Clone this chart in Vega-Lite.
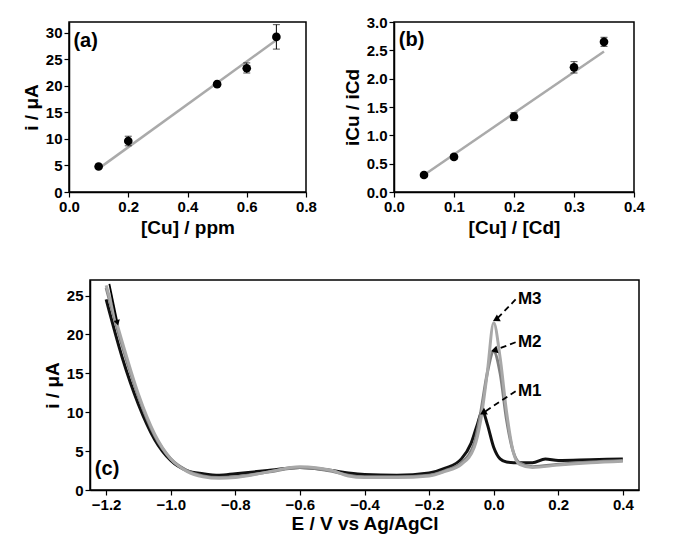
{
  "$schema": "https://vega.github.io/schema/vega-lite/v6.json",
  "background": "white",
  "padding": {"left": 21, "top": 14, "right": 8, "bottom": 4},
  "config": {
    "font": "Liberation Sans",
    "view": {"stroke": "black", "strokeWidth": 1.5},
    "axis": {"grid": false, "domainColor": "black", "tickColor": "black", "labelColor": "black", "titleColor": "black",
      "labelFont": "Liberation Sans", "titleFont": "Liberation Sans", "labelFontWeight": "bold", "titleFontWeight": "bold",
      "labelFontSize": 15, "titleFontSize": 19, "domainWidth": 1.5, "tickWidth": 1.2, "tickSize": 5, "labelFlush": false}
  },
  "datasets": {
    "a": [
      {"x": 0.1, "y": 4.8, "lo": 4.5, "hi": 5.1},
      {"x": 0.2, "y": 9.6, "lo": 8.7, "hi": 10.5},
      {"x": 0.5, "y": 20.3, "lo": 20.0, "hi": 20.6},
      {"x": 0.6, "y": 23.3, "lo": 22.4, "hi": 24.3},
      {"x": 0.7, "y": 29.2, "lo": 26.9, "hi": 31.5}
    ],
    "afit": [{"x": 0.1, "y": 4.4}, {"x": 0.7, "y": 28.6}],
    "b": [
      {"x": 0.05, "y": 0.3, "lo": 0.27, "hi": 0.33},
      {"x": 0.1, "y": 0.62, "lo": 0.58, "hi": 0.66},
      {"x": 0.2, "y": 1.33, "lo": 1.26, "hi": 1.4},
      {"x": 0.3, "y": 2.2, "lo": 2.1, "hi": 2.3},
      {"x": 0.35, "y": 2.65, "lo": 2.57, "hi": 2.73}
    ],
    "bfit": [{"x": 0.05, "y": 0.3}, {"x": 0.35, "y": 2.48}],
    "c": [
      {"s": "M1", "x": -1.2, "y": 24.5}, {"s": "M1", "x": -1.15, "y": 17}, {"s": "M1", "x": -1.1, "y": 11}, {"s": "M1", "x": -1.05, "y": 6.5},
      {"s": "M1", "x": -1.0, "y": 3.8}, {"s": "M1", "x": -0.95, "y": 2.5}, {"s": "M1", "x": -0.9, "y": 2.1}, {"s": "M1", "x": -0.85, "y": 1.9},
      {"s": "M1", "x": -0.8, "y": 2.1}, {"s": "M1", "x": -0.7, "y": 2.5}, {"s": "M1", "x": -0.6, "y": 2.9}, {"s": "M1", "x": -0.5, "y": 2.5},
      {"s": "M1", "x": -0.45, "y": 2.2}, {"s": "M1", "x": -0.4, "y": 2.0}, {"s": "M1", "x": -0.3, "y": 1.9}, {"s": "M1", "x": -0.2, "y": 2.2},
      {"s": "M1", "x": -0.15, "y": 2.8}, {"s": "M1", "x": -0.1, "y": 4.0}, {"s": "M1", "x": -0.07, "y": 6}, {"s": "M1", "x": -0.05, "y": 8.5},
      {"s": "M1", "x": -0.035, "y": 10.2}, {"s": "M1", "x": -0.02, "y": 8.5}, {"s": "M1", "x": 0.0, "y": 5.5}, {"s": "M1", "x": 0.02, "y": 4.0},
      {"s": "M1", "x": 0.04, "y": 3.6}, {"s": "M1", "x": 0.08, "y": 3.5}, {"s": "M1", "x": 0.12, "y": 3.5}, {"s": "M1", "x": 0.16, "y": 4.0},
      {"s": "M1", "x": 0.2, "y": 3.8}, {"s": "M1", "x": 0.3, "y": 3.9}, {"s": "M1", "x": 0.4, "y": 4.0},
      {"s": "M2", "x": -1.2, "y": 26}, {"s": "M2", "x": -1.15, "y": 18.5}, {"s": "M2", "x": -1.1, "y": 12}, {"s": "M2", "x": -1.05, "y": 7},
      {"s": "M2", "x": -1.0, "y": 4.0}, {"s": "M2", "x": -0.95, "y": 2.5}, {"s": "M2", "x": -0.9, "y": 1.8}, {"s": "M2", "x": -0.85, "y": 1.6},
      {"s": "M2", "x": -0.8, "y": 1.7}, {"s": "M2", "x": -0.7, "y": 2.3}, {"s": "M2", "x": -0.6, "y": 2.9}, {"s": "M2", "x": -0.5, "y": 2.4},
      {"s": "M2", "x": -0.45, "y": 1.9}, {"s": "M2", "x": -0.4, "y": 1.7}, {"s": "M2", "x": -0.3, "y": 1.7}, {"s": "M2", "x": -0.2, "y": 1.9},
      {"s": "M2", "x": -0.15, "y": 2.5}, {"s": "M2", "x": -0.1, "y": 3.5}, {"s": "M2", "x": -0.06, "y": 6}, {"s": "M2", "x": -0.04, "y": 10},
      {"s": "M2", "x": -0.02, "y": 15}, {"s": "M2", "x": 0.0, "y": 17.8}, {"s": "M2", "x": 0.02, "y": 15}, {"s": "M2", "x": 0.04, "y": 9},
      {"s": "M2", "x": 0.06, "y": 5}, {"s": "M2", "x": 0.08, "y": 3.5}, {"s": "M2", "x": 0.12, "y": 3.0}, {"s": "M2", "x": 0.2, "y": 3.3},
      {"s": "M2", "x": 0.3, "y": 3.6}, {"s": "M2", "x": 0.4, "y": 3.8},
      {"s": "M3", "x": -1.2, "y": 26.3}, {"s": "M3", "x": -1.15, "y": 19}, {"s": "M3", "x": -1.1, "y": 12.3}, {"s": "M3", "x": -1.05, "y": 7.2},
      {"s": "M3", "x": -1.0, "y": 4.0}, {"s": "M3", "x": -0.95, "y": 2.4}, {"s": "M3", "x": -0.9, "y": 1.7}, {"s": "M3", "x": -0.85, "y": 1.5},
      {"s": "M3", "x": -0.8, "y": 1.6}, {"s": "M3", "x": -0.7, "y": 2.3}, {"s": "M3", "x": -0.6, "y": 3.0}, {"s": "M3", "x": -0.5, "y": 2.5},
      {"s": "M3", "x": -0.45, "y": 1.8}, {"s": "M3", "x": -0.4, "y": 1.6}, {"s": "M3", "x": -0.3, "y": 1.6}, {"s": "M3", "x": -0.2, "y": 1.8},
      {"s": "M3", "x": -0.15, "y": 2.4}, {"s": "M3", "x": -0.1, "y": 3.3}, {"s": "M3", "x": -0.06, "y": 5.5}, {"s": "M3", "x": -0.04, "y": 9},
      {"s": "M3", "x": -0.02, "y": 15}, {"s": "M3", "x": 0.0, "y": 21.5}, {"s": "M3", "x": 0.02, "y": 17}, {"s": "M3", "x": 0.04, "y": 10},
      {"s": "M3", "x": 0.06, "y": 5}, {"s": "M3", "x": 0.08, "y": 3.3}, {"s": "M3", "x": 0.12, "y": 2.9}, {"s": "M3", "x": 0.2, "y": 3.2},
      {"s": "M3", "x": 0.3, "y": 3.5}, {"s": "M3", "x": 0.4, "y": 3.7}
    ],
    "ann": [
      {"s": "M3", "tx": 0.075, "ty": 24.5, "x1": 0.068, "y1": 24.5, "x2": 0.01, "y2": 22.0, "ang": 240},
      {"s": "M2", "tx": 0.075, "ty": 19.0, "x1": 0.068, "y1": 19.0, "x2": 0.005, "y2": 18.0, "ang": 255},
      {"s": "M1", "tx": 0.075, "ty": 12.7, "x1": 0.068, "y1": 12.7, "x2": -0.03, "y2": 10.0, "ang": 240}
    ],
    "arrow": [{"x1": -1.19, "y1": 26.5, "x2": -1.165, "y2": 21.5}]
  },
  "vconcat": [
    {
      "hconcat": [
        {
          "width": 237, "height": 170,
          "encoding": {
            "x": {"field": "x", "type": "quantitative", "scale": {"domain": [0, 0.8]}, "axis": {"values": [0, 0.2, 0.4, 0.6, 0.8], "format": ".1f"}, "title": "[Cu] / ppm"},
            "y": {"field": "y", "type": "quantitative", "scale": {"domain": [0, 32]}, "axis": {"values": [0, 5, 10, 15, 20, 25, 30]}, "title": "i / μA"}
          },
          "layer": [
            {"data": {"name": "afit"}, "mark": {"type": "line", "color": "#aaaaaa", "strokeWidth": 2.5}},
            {"data": {"name": "a"}, "mark": {"type": "rule", "color": "black"},
             "encoding": {"y": {"field": "lo", "type": "quantitative", "axis": {"values": [0, 5, 10, 15, 20, 25, 30]}, "title": "i / μA"}, "y2": {"field": "hi"}}},
            {"data": {"name": "a"}, "mark": {"type": "tick", "color": "black", "orient": "horizontal", "size": 7, "thickness": 1},
             "encoding": {"y": {"field": "hi", "type": "quantitative", "axis": {"values": [0, 5, 10, 15, 20, 25, 30]}, "title": "i / μA"}}},
            {"data": {"name": "a"}, "mark": {"type": "tick", "color": "black", "orient": "horizontal", "size": 7, "thickness": 1},
             "encoding": {"y": {"field": "lo", "type": "quantitative", "axis": {"values": [0, 5, 10, 15, 20, 25, 30]}, "title": "i / μA"}}},
            {"data": {"name": "a"}, "mark": {"type": "point", "filled": true, "color": "black", "size": 75, "opacity": 1}},
            {"data": {"values": [{"x": 0.015, "y": 28.5, "t": "(a)"}]}, "mark": {"type": "text", "align": "left", "fontSize": 20, "fontWeight": "bold", "color": "black"},
             "encoding": {"text": {"field": "t"}}}
          ]
        },
        {
          "width": 240, "height": 170,
          "encoding": {
            "x": {"field": "x", "type": "quantitative", "scale": {"domain": [0, 0.4]}, "axis": {"values": [0, 0.1, 0.2, 0.3, 0.4], "format": ".1f"}, "title": "[Cu] / [Cd]"},
            "y": {"field": "y", "type": "quantitative", "scale": {"domain": [0, 3]}, "axis": {"values": [0, 0.5, 1, 1.5, 2, 2.5, 3], "format": ".1f"}, "title": "iCu / iCd"}
          },
          "layer": [
            {"data": {"name": "bfit"}, "mark": {"type": "line", "color": "#aaaaaa", "strokeWidth": 2.5}},
            {"data": {"name": "b"}, "mark": {"type": "rule", "color": "black"},
             "encoding": {"y": {"field": "lo", "type": "quantitative", "axis": {"values": [0, 0.5, 1, 1.5, 2, 2.5, 3], "format": ".1f"}, "title": "iCu / iCd"}, "y2": {"field": "hi"}}},
            {"data": {"name": "b"}, "mark": {"type": "tick", "color": "black", "orient": "horizontal", "size": 7, "thickness": 1},
             "encoding": {"y": {"field": "hi", "type": "quantitative", "axis": {"values": [0, 0.5, 1, 1.5, 2, 2.5, 3], "format": ".1f"}, "title": "iCu / iCd"}}},
            {"data": {"name": "b"}, "mark": {"type": "tick", "color": "black", "orient": "horizontal", "size": 7, "thickness": 1},
             "encoding": {"y": {"field": "lo", "type": "quantitative", "axis": {"values": [0, 0.5, 1, 1.5, 2, 2.5, 3], "format": ".1f"}, "title": "iCu / iCd"}}},
            {"data": {"name": "b"}, "mark": {"type": "point", "filled": true, "color": "black", "size": 75, "opacity": 1}},
            {"data": {"values": [{"x": 0.008, "y": 2.68, "t": "(b)"}]}, "mark": {"type": "text", "align": "left", "fontSize": 20, "fontWeight": "bold", "color": "black"},
             "encoding": {"text": {"field": "t"}}}
          ]
        }
      ],
      "spacing": 24
    },
    {
      "hconcat": [
        {
          "width": 1, "height": 210, "view": {"stroke": null},
          "data": {"values": [{"t": ""}]},
          "mark": {"type": "text"},
          "encoding": {"text": {"field": "t"}}
        },
        {
          "width": 549, "height": 210,
          "encoding": {
            "x": {"field": "x", "type": "quantitative", "scale": {"domain": [-1.25, 0.45]}, "axis": {"values": [-1.2, -1.0, -0.8, -0.6, -0.4, -0.2, 0, 0.2, 0.4], "format": ".1f", "titlePadding": 2}, "title": "E / V vs Ag/AgCl"},
            "y": {"field": "y", "type": "quantitative", "scale": {"domain": [0, 27]}, "axis": {"values": [0, 5, 10, 15, 20, 25]}, "title": "i / μA"}
          },
          "layer": [
            {"data": {"name": "c"}, "mark": {"type": "line", "strokeWidth": 3, "interpolate": "monotone"},
             "encoding": {"color": {"field": "s", "type": "nominal", "scale": {"domain": ["M1", "M2", "M3"], "range": ["#111111", "#808080", "#a8a8a8"]}, "legend": null},
                          "order": {"field": "s"}}},
            {"data": {"name": "ann"}, "mark": {"type": "rule", "strokeDash": [6, 4], "strokeWidth": 1.8, "color": "black"},
             "encoding": {"x": {"field": "x1", "type": "quantitative"}, "y": {"field": "y1", "type": "quantitative"}, "x2": {"field": "x2"}, "y2": {"field": "y2"}}},
            {"data": {"name": "ann"}, "mark": {"type": "point", "shape": "triangle", "filled": true, "color": "black", "size": 60, "opacity": 1},
             "encoding": {"x": {"field": "x2", "type": "quantitative"}, "y": {"field": "y2", "type": "quantitative"}, "angle": {"field": "ang", "type": "quantitative", "scale": null}}},
            {"data": {"name": "ann"}, "mark": {"type": "text", "align": "left", "fontSize": 17, "fontWeight": "bold", "color": "black"},
             "encoding": {"x": {"field": "tx", "type": "quantitative"}, "y": {"field": "ty", "type": "quantitative"}, "text": {"field": "s"}}},
            {"data": {"name": "arrow"}, "mark": {"type": "rule", "strokeWidth": 1.8, "color": "black"},
             "encoding": {"x": {"field": "x1", "type": "quantitative"}, "y": {"field": "y1", "type": "quantitative"}, "x2": {"field": "x2"}, "y2": {"field": "y2"}}},
            {"data": {"name": "arrow"}, "mark": {"type": "point", "shape": "triangle-down", "filled": true, "color": "black", "size": 40, "opacity": 1, "angle": -15},
             "encoding": {"x": {"field": "x2", "type": "quantitative"}, "y": {"field": "y2", "type": "quantitative"}}},
            {"data": {"values": [{"x": -1.235, "y": 2.7, "t": "(c)"}]}, "mark": {"type": "text", "align": "left", "fontSize": 20, "fontWeight": "bold", "color": "black"},
             "encoding": {"text": {"field": "t"}}}
          ]
        }
      ],
      "spacing": -28
    }
  ],
  "spacing": 40
}
